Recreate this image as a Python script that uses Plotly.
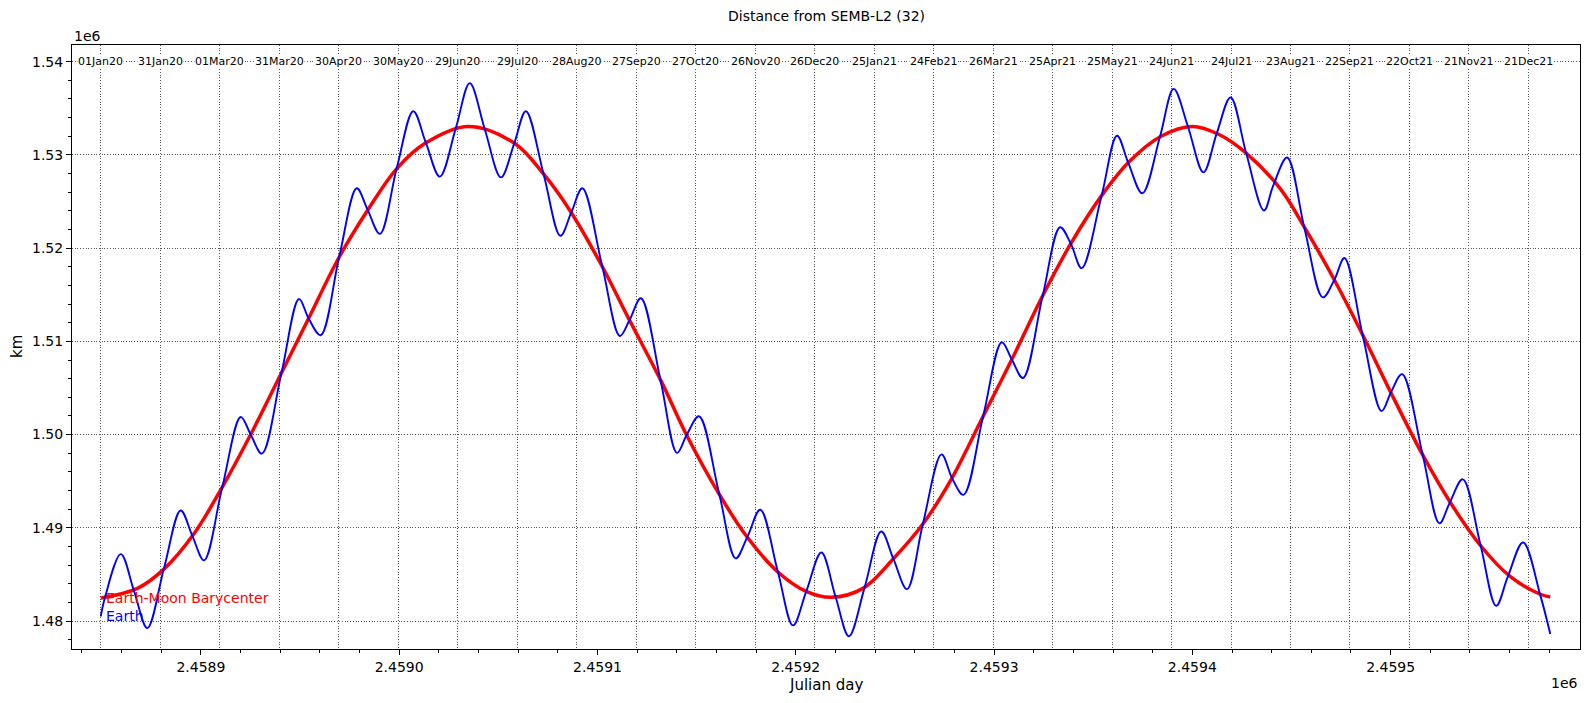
import plotly.graph_objects as go

JD0 = 2458849.5  # 01 Jan 2020 00:00 UT

# Earth-Moon barycenter distance (day offset from JD0, km)
emb_day = [0, 18.5, 32, 47, 61.3, 75.6, 90.8, 105, 120.2, 134.5, 149.2, 163.4, 185.3, 208.8, 223.1,
           236.6, 252.5, 266, 282.8, 295.3, 312.1, 325.5, 341.5, 355.8, 368.4, 384.4, 399.5, 414.6,
           428.9, 445, 459.7, 474.9, 489.2, 504.3, 518.6, 534.5, 550.5, 564, 577.5, 595, 607.6,
           621.8, 637, 650.4, 666.4, 680.7, 695.8, 710.9, 726, 731]
emb_km = [1482460, 1483500, 1485590, 1489350, 1494370, 1500010, 1506480, 1512540, 1519020, 1524040,
          1528510, 1531220, 1533060, 1531220, 1528010, 1524040, 1518190, 1512540, 1505650, 1500010,
          1493530, 1489140, 1485260, 1483170, 1482540, 1483500, 1486630, 1490400, 1495200, 1501970,
          1508160, 1514840, 1520480, 1525500, 1529260, 1531980, 1533060, 1532190, 1530220, 1526330,
          1522030, 1516720, 1510450, 1504600, 1497920, 1492690, 1488100, 1484750, 1482870, 1482580]

# Earth distance (day offset from JD0, km)
earth_day = [0, 2.2, 10.1, 16.8, 23.5, 31.9, 40.3, 46.2, 52.1, 61.3, 70.6, 75.6, 81.3, 91.1, 100.0,
             104.9, 110.9, 120.2, 129.1, 134.5, 140.8, 149.2, 157.6, 163.9, 171.0, 179.1, 186.1,
             193.7, 201.8, 208.5, 214.4, 223.4, 231.8, 237.3, 242.9, 252.9, 261.8, 266.8, 272.4,
             282.4, 290.6, 295.6, 301.7, 311.8, 320.2, 326.1, 332.6, 341.5, 349.1, 355.8, 363.4,
             370.6, 377.3, 385.2, 393.6, 399.8, 406.6, 414.6, 424.0, 429.4, 435.1, 445.0, 454.4,
             459.4, 465.1, 474.9, 483.8, 489.2, 494.7, 504.6, 512.5, 518.2, 525.3, 534.2, 541.1,
             548.3, 556.1, 562.8, 569.8, 577.7, 586.6, 591.3, 598.3, 607.1, 616.3, 622.2, 627.2,
             636.6, 645.9, 650.8, 656.3, 666.7, 675.1, 680.3, 686.9, 695.8, 703.7, 709.6, 717.3,
             726.0, 731]
earth_km = [1480490, 1482580, 1487180, 1483210, 1479240, 1485670, 1491860, 1489140, 1486510, 1494370,
            1501890, 1500010, 1497960, 1506570, 1514550, 1512420, 1510660, 1519020, 1526420, 1524160,
            1521530, 1528510, 1534690, 1531350, 1527670, 1532900, 1537700, 1532730, 1527590, 1531220,
            1534690, 1527880, 1521320, 1523830, 1526420, 1518060, 1510580, 1512340, 1514630, 1505730,
            1498040, 1500010, 1501970, 1493740, 1486720, 1489020, 1491940, 1485260, 1479530, 1483170,
            1487350, 1482580, 1478360, 1483580, 1489600, 1486630, 1483420, 1490400, 1497880, 1495290,
            1493530, 1501970, 1509910, 1508070, 1506070, 1514760, 1522240, 1520480, 1517850, 1525500,
            1532060, 1529140, 1525880, 1531980, 1537080, 1533020, 1528130, 1532310, 1536160, 1530140,
            1524040, 1526710, 1529720, 1522070, 1514720, 1516640, 1518940, 1510460, 1502520, 1504600,
            1506480, 1497790, 1490480, 1492690, 1495200, 1488180, 1481620, 1484750, 1488430, 1482750,
            1478610]

# Calendar markers along the top (day offset from JD0)
date_day = [0, 30, 60, 90, 120, 150, 180, 210, 240, 270, 300, 330, 360, 390, 420, 450, 480, 510,
            540, 570, 600, 630, 660, 690, 720]
date_labels = ["01Jan20", "31Jan20", "01Mar20", "31Mar20", "30Apr20", "30May20", "29Jun20",
               "29Jul20", "28Aug20", "27Sep20", "27Oct20", "26Nov20", "26Dec20", "25Jan21",
               "24Feb21", "26Mar21", "25Apr21", "25May21", "24Jun21", "24Jul21", "23Aug21",
               "22Sep21", "22Oct21", "21Nov21", "21Dec21"]

x_tickvals = [2458900, 2459000, 2459100, 2459200, 2459300, 2459400, 2459500]
x_ticktext = ["2.4589", "2.4590", "2.4591", "2.4592", "2.4593", "2.4594", "2.4595"]
y_tickvals = [1480000, 1490000, 1500000, 1510000, 1520000, 1530000, 1540000]
y_ticktext = ["1.48", "1.49", "1.50", "1.51", "1.52", "1.53", "1.54"]

title_text = "Distance from SEMB-L2 (32)"
FONT = "DejaVu Sans"

emb_jd = [JD0 + d for d in emb_day]
earth_jd = [JD0 + d for d in earth_day]
date_jd = [JD0 + d for d in date_day]

xr = [2458835.0, 2459595.5]
yr = [1476998, 1541790]

fig = go.Figure()
fig.add_trace(go.Scatter(x=emb_jd, y=emb_km, mode="lines", name="Earth-Moon Barycenter",
                         line=dict(color="#ff0000", width=3.5, shape="spline", smoothing=1.0)))
fig.add_trace(go.Scatter(x=earth_jd, y=earth_km, mode="lines", name="Earth",
                         line=dict(color="#0000ff", width=1.9, shape="spline", smoothing=1.0)))
# invisible helper trace for the date grid axis
fig.add_trace(go.Scatter(x=[date_jd[0]], y=[emb_km[0]], xaxis="x2", mode="markers",
                         marker=dict(opacity=0), showlegend=False, hoverinfo="skip"))

grid_dash = "1px,1.7px"
grid_col = "#555555"

fig.update_layout(
    width=1589, height=703,
    margin=dict(l=72, r=9, t=45, b=54),
    paper_bgcolor="white", plot_bgcolor="white",
    showlegend=False,
    font=dict(family=FONT, size=14, color="black"),
    xaxis=dict(range=xr, tickmode="array", tickvals=x_tickvals, ticktext=x_ticktext,
               showgrid=False, zeroline=False, showline=True, linecolor="black", linewidth=1,
               mirror=True, ticks="outside", ticklen=5, tickwidth=1, tickcolor="black",
               tickfont=dict(size=14),
               minor=dict(tickmode="linear", tick0=2458840, dtick=20, ticks="outside",
                          ticklen=3, tickwidth=1, tickcolor="black", showgrid=False)),
    xaxis2=dict(range=xr, overlaying="x", side="top", tickmode="array", tickvals=date_jd,
                showticklabels=False, ticks="", showgrid=True, gridcolor=grid_col,
                griddash=grid_dash, gridwidth=1, zeroline=False, showline=False),
    yaxis=dict(range=yr, tickmode="array", tickvals=y_tickvals, ticktext=y_ticktext,
               showgrid=True, gridcolor=grid_col, griddash=grid_dash, gridwidth=1,
               zeroline=False, showline=True, linecolor="black", linewidth=1, mirror=True,
               ticks="outside", ticklen=5, tickwidth=1, tickcolor="black",
               tickfont=dict(size=14),
               minor=dict(tickmode="linear", tick0=1476000, dtick=2000, ticks="outside",
                          ticklen=3, tickwidth=1, tickcolor="black", showgrid=False)),
)

ann = []
for jd, lab in zip(date_jd, date_labels):
    ann.append(dict(x=jd, y=1540000, xref="x", yref="y", text=lab, showarrow=False,
                    xanchor="center", yanchor="middle", font=dict(size=11, family=FONT),
                    bgcolor="white", borderpad=0))
ann += [
    dict(x=emb_jd[0], y=emb_km[0], xref="x", yref="y", text="Earth-Moon Barycenter",
         showarrow=False, xanchor="left", yanchor="middle", xshift=3,
         font=dict(size=14, color="#ff0000", family=FONT)),
    dict(x=earth_jd[0], y=earth_km[0], xref="x", yref="y", text="Earth",
         showarrow=False, xanchor="left", yanchor="middle", xshift=3,
         font=dict(size=14, color="#0000ff", family=FONT)),
    dict(x=0.5, y=1 + 29 / 604, xref="paper", yref="paper", text=title_text, showarrow=False,
         xanchor="center", yanchor="middle", font=dict(size=14, family=FONT)),
    dict(x=0, y=1 + 9 / 604, xref="paper", yref="paper", text="1e6", showarrow=False,
         xanchor="left", yanchor="middle", font=dict(size=14, family=FONT)),
    dict(x=1, y=-34 / 604, xref="paper", yref="paper", text="1e6", showarrow=False,
         xanchor="right", yanchor="middle", font=dict(size=14, family=FONT)),
    dict(x=0.5, y=-36 / 604, xref="paper", yref="paper", text="Julian day", showarrow=False,
         xanchor="center", yanchor="middle", font=dict(size=15, family=FONT)),
    dict(x=-55 / 1508, y=0.5, xref="paper", yref="paper", text="km", showarrow=False,
         xanchor="center", yanchor="middle", textangle=-90, font=dict(size=15, family=FONT)),
]
fig.update_layout(annotations=ann)

fig.write_html("out.html")
